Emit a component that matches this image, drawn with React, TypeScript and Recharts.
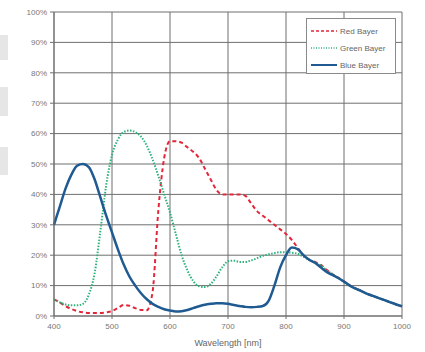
import React from "react";
import { LineChart, Line, XAxis, YAxis, CartesianGrid } from "recharts";

const wavelengths = [
  400, 410, 420, 430, 440, 450, 460, 470, 480, 490,
  500, 510, 520, 530, 540, 550, 560, 570, 580, 590,
  600, 610, 620, 630, 640, 650, 660, 670, 680, 690,
  700, 710, 720, 730, 740, 750, 760, 770, 780, 790,
  800, 810, 820, 830, 840, 850, 860, 870, 880, 890,
  900, 910, 920, 930, 940, 950, 960, 970, 980, 990, 1000,
];

const redBayer = [
  5.5, 4.5, 3.2, 2.3, 1.6, 1.2, 1, 1, 1, 1.2,
  1.6, 2.6, 3.6, 3.4, 2.6, 2, 1.9, 8, 35, 52,
  57.5, 57.5, 57, 55.5, 54, 52, 48.5, 45, 41.5, 40,
  40, 40, 40, 39.5, 37, 34.5, 33, 31.5, 30, 28.5,
  27, 25, 22.5, 20, 18.5, 17.8, 16.8, 15.2, 13.8, 12.6,
  11.4, 10.1, 9.1, 8.2, 7.4, 6.6, 5.9, 5.2, 4.5, 3.8, 3.2,
];

const greenBayer = [
  5.5, 4.5, 3.8, 3.5, 3.5, 4, 7, 14, 28, 43,
  53, 58, 60.5, 61, 60.5, 59, 56, 51.5, 46, 40,
  34, 27, 20, 15, 11.5, 9.8, 9.5, 10.5, 13, 16,
  18, 18.2, 17.8, 17.8, 18.3, 19, 19.8, 20.3, 20.7, 21,
  21, 20.8, 20.5, 19.5, 18.5, 17.6, 16.6, 15.1, 13.7, 12.5,
  11.3, 10, 9, 8.2, 7.3, 6.6, 5.9, 5.2, 4.5, 3.8, 3.2,
];

const blueBayer = [
  30, 36, 42, 46.5, 49.5, 50, 49, 45, 39, 33,
  27.5, 22, 17, 13, 10, 7.5, 5.5, 4, 3, 2.2,
  1.8, 1.5, 1.6, 2, 2.6, 3.2, 3.7, 4, 4.2, 4.2,
  4, 3.6, 3.3, 3, 2.9, 3, 3.3, 5, 10, 16,
  20, 22.5, 22, 20, 18.5, 17.5, 16, 14.5, 13.5, 12.5,
  11.3, 10, 9, 8.2, 7.3, 6.6, 5.9, 5.2, 4.5, 3.8, 3.2,
];

const xTicks = [400, 500, 600, 700, 800, 900, 1000];
const yTicks = [0, 10, 20, 30, 40, 50, 60, 70, 80, 90, 100];

const seriesNames = ["Red Bayer", "Green Bayer", "Blue Bayer"];

const data = wavelengths.map((w, i) => ({
  wl: w,
  red: redBayer[i],
  green: greenBayer[i],
  blue: blueBayer[i],
}));

const RED = "#e3263a";
const GREEN = "#2fb27c";
const BLUE = "#1f5b92";

const LegendBox = () => (
  <div
    style={{
      position: "absolute",
      left: 306,
      top: 18,
      border: "1px solid #8a8a8a",
      background: "#fff",
      width: 90,
      height: 56,
      boxSizing: "border-box",
      fontFamily: "Liberation Sans, Arial, sans-serif",
      fontSize: 8,
      color: "#666",
    }}
  >
    {seriesNames.map((name, i) => (
      <div
        key={name}
        style={{
          position: "absolute",
          left: 4,
          top: 7 + i * 17,
          display: "flex",
          alignItems: "center",
          height: 10,
          whiteSpace: "nowrap",
        }}
      >
        <svg width={26} height={6} style={{ marginRight: 3 }}>
          {i === 0 && (
            <line x1={0} y1={3} x2={26} y2={3} stroke={RED} strokeWidth={1.5} strokeDasharray="3 2" />
          )}
          {i === 1 && (
            <line x1={0} y1={3} x2={26} y2={3} stroke={GREEN} strokeWidth={1.5} strokeDasharray="1 1.5" />
          )}
          {i === 2 && <line x1={0} y1={3} x2={26} y2={3} stroke={BLUE} strokeWidth={2} />}
        </svg>
        <span>{name}</span>
      </div>
    ))}
  </div>
);

const tickStyle = {
  fontSize: 8,
  fill: "#777",
  fontFamily: "Liberation Sans, Arial, sans-serif",
};

export default function App() {
  return (
    <div style={{ position: "absolute", left: 0, top: 0, width: 425, height: 352, background: "#fff" }}>
      <div style={{ position: "absolute", left: 0, top: 35, width: 8, height: 25, background: "#e6e6e6" }} />
      <div style={{ position: "absolute", left: 0, top: 87, width: 8, height: 29, background: "#e6e6e6" }} />
      <div style={{ position: "absolute", left: 0, top: 147, width: 8, height: 28, background: "#e6e6e6" }} />
      <LineChart
        width={425}
        height={352}
        data={data}
        margin={{ top: 12, right: 23, bottom: 0, left: 0 }}
      >
        <CartesianGrid stroke="#6f6f6f" strokeWidth={1} vertical horizontal />
        <XAxis
          dataKey="wl"
          type="number"
          domain={[400, 1000]}
          ticks={xTicks}
          height={36}
          tick={tickStyle}
          tickSize={3}
          tickMargin={4}
          stroke="#6f6f6f"
          label={{
            value: "Wavelength [nm]",
            position: "insideBottom",
            offset: 6,
            style: { fontSize: 9, fill: "#666", fontFamily: "Liberation Sans, Arial, sans-serif" },
          }}
        />
        <YAxis
          type="number"
          domain={[0, 100]}
          ticks={yTicks}
          width={54}
          tick={tickStyle}
          tickSize={4}
          tickMargin={3}
          stroke="#6f6f6f"
          tickFormatter={(v: number) => `${v}%`}
        />
        <Line
          type="monotone"
          dataKey="red"
          stroke={RED}
          strokeWidth={2}
          strokeDasharray="4 3"
          dot={false}
          isAnimationActive={false}
        />
        <Line
          type="monotone"
          dataKey="green"
          stroke={GREEN}
          strokeWidth={2}
          strokeDasharray="1.5 1.5"
          dot={false}
          isAnimationActive={false}
        />
        <Line
          type="monotone"
          dataKey="blue"
          stroke={BLUE}
          strokeWidth={2.5}
          dot={false}
          isAnimationActive={false}
        />
      </LineChart>
      <LegendBox />
    </div>
  );
}
